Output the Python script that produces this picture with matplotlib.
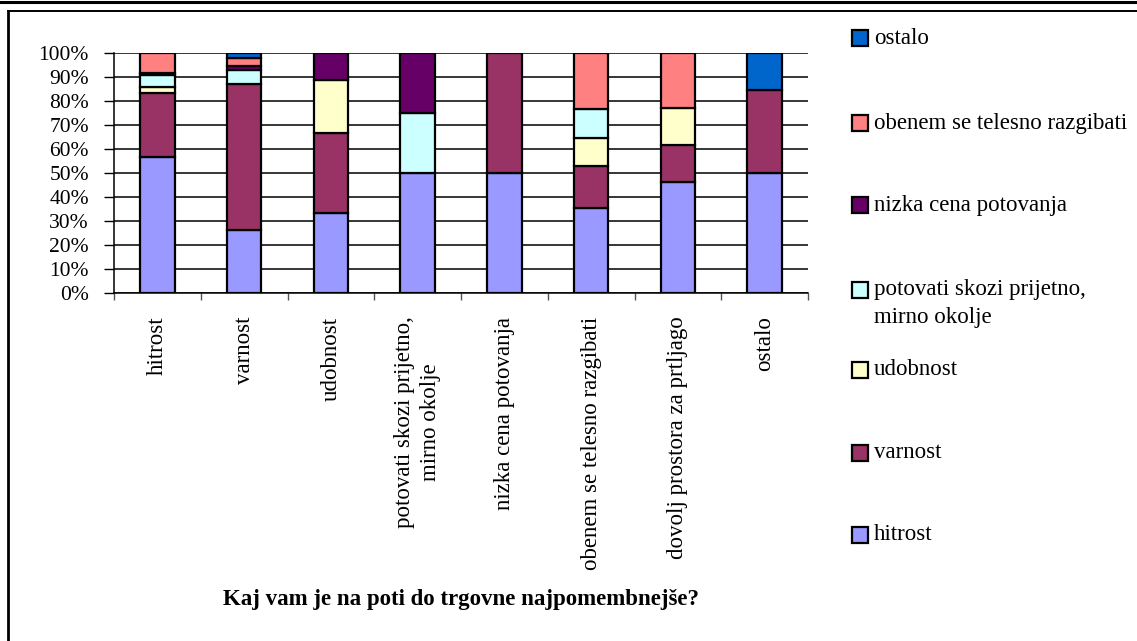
import numpy as np
import matplotlib
matplotlib.use("Agg")
import matplotlib.pyplot as plt
from matplotlib.patches import Rectangle
from matplotlib.lines import Line2D

plt.rcParams['font.family'] = ['Liberation Serif', 'DejaVu Serif']

# kategorije (os x)
categories = ['hitrost', 'varnost', 'udobnost', 'potovati skozi prijetno,\nmirno okolje',
              'nizka cena potovanja', 'obenem se telesno razgibati',
              'dovolj prostora za prtljago', 'ostalo']

# serije (odstotki), od spodaj navzgor
hitrost = [56.7, 26.4, 33.4, 50.0, 50.0, 35.3, 46.2, 50.0]
varnost = [26.6, 60.8, 33.3, 0.0, 50.0, 17.6, 15.4, 34.7]
udobnost = [2.5, 0.0, 22.2, 0.0, 0.0, 11.8, 15.4, 0.0]
potovati = [5.0, 5.9, 0.0, 25.0, 0.0, 11.8, 0.0, 0.0]
nizka_cena = [1.0, 1.4, 11.1, 25.0, 0.0, 0.0, 0.0, 0.0]
obenem = [8.2, 3.4, 0.0, 0.0, 0.0, 23.5, 23.0, 0.0]
ostalo = [0.0, 2.1, 0.0, 0.0, 0.0, 0.0, 0.0, 15.3]

series_names = ['hitrost', 'varnost', 'udobnost', 'potovati skozi prijetno,\nmirno okolje',
                'nizka cena potovanja', 'obenem se telesno razgibati', 'ostalo']
series = [hitrost, varnost, udobnost, potovati, nizka_cena, obenem, ostalo]
colors = ['#9999FF', '#993366', '#FFFFCC', '#CCFFFF', '#660066', '#FF8080', '#0066CC']

fig = plt.figure(figsize=(11.37, 6.41), dpi=100)
W, H = 1137, 641
ax = fig.add_axes([114 / W, 1 - 293 / H, (808 - 114) / W, (293 - 53) / H])

x = np.arange(len(categories))
bottom = np.zeros(len(categories))
for vals, c in zip(series, colors):
    vals = np.array(vals)
    lw = np.where(vals > 0, 1.6, 0)
    ax.bar(x, vals, 0.4, bottom=bottom, color=c, edgecolor='black', linewidth=lw, zorder=3)
    bottom += vals

ax.set_xlim(-0.5, len(categories) - 0.5)
ax.set_ylim(0, 100)
ax.set_yticks(np.arange(0, 101, 10))
ax.set_yticklabels([f'{v}%' for v in range(0, 101, 10)], fontsize=15.5)
ax.yaxis.grid(True, color='black', linewidth=1.1, zorder=0)
ax.set_axisbelow(True)

ax.set_xticks(x)
ax.set_xticklabels(categories, rotation=90, fontsize=16.5, va='top', ha='center',
                   linespacing=1.3)
ax.set_xticks(np.arange(-0.5, len(categories)), minor=True)
ax.tick_params(axis='x', which='major', length=0, pad=17)
ax.tick_params(axis='x', which='minor', length=5, width=1, color='#555555')
ax.tick_params(axis='y', length=7, width=1, pad=11)

for s in ['top', 'right']:
    ax.spines[s].set_visible(False)
ax.spines['left'].set_linewidth(1.1)
ax.spines['bottom'].set_linewidth(1.1)

fig.text(461 / W, 1 - 600 / H, 'Kaj vam je na poti do trgovne najpomembnejše?',
         ha='center', va='center', fontsize=16.5, fontweight='bold')

# legenda
leg_y = [535, 453, 370, 290, 205, 123, 38]
for name, c, yy in zip(series_names, colors, leg_y):
    fig.patches.append(Rectangle((852 / W, 1 - (yy + 8) / H), 16 / W, 16 / H,
                                 transform=fig.transFigure, facecolor=c,
                                 edgecolor='black', linewidth=1.6))
    fig.text(874 / W, 1 - (yy - 11) / H if '\n' in name else 1 - yy / H, name,
             ha='left', va='top' if '\n' in name else 'center',
             fontsize=16.5, linespacing=1.45)

# okvir
fig.add_artist(Line2D([0, 1], [1 - 1.5 / H, 1 - 1.5 / H], color='black', linewidth=2.2,
                      transform=fig.transFigure))
fig.add_artist(Line2D([8 / W, 1], [1 - 11 / H, 1 - 11 / H], color='black', linewidth=1.4,
                      transform=fig.transFigure))
fig.add_artist(Line2D([8 / W, 8 / W], [0, 1 - 11 / H], color='black', linewidth=2,
                      transform=fig.transFigure))

fig.savefig('out.png', dpi=100, facecolor='white')
